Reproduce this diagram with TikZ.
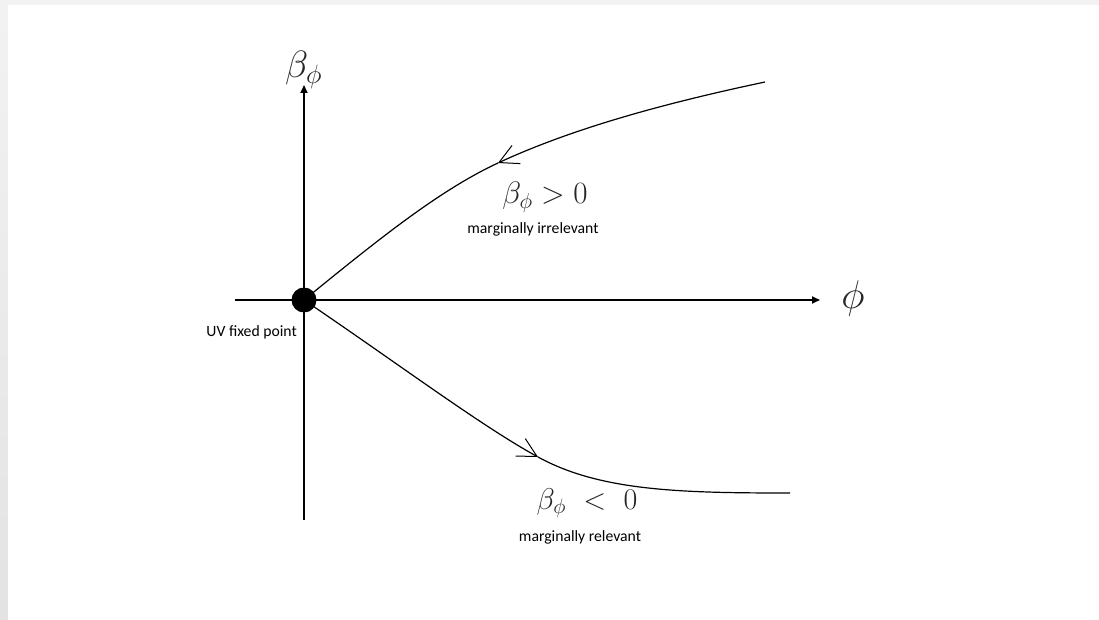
\RequirePackage{fix-cm}
\documentclass[tikz,border=0pt]{standalone}
\usepackage{fontspec}
\newfontfamily\calib{Carlito}
\usetikzlibrary{arrows.meta}
\begin{document}
\begin{tikzpicture}[x=1pt,y=-1pt,
  axis/.style={line width=1.8pt, -{Triangle[length=8pt,width=7pt]}},
  flow/.style={line width=1.2pt},
  barb/.style={flow, -{Straight Barb[length=19pt,width=20pt,line width=1pt]}},
  lbl/.style={font=\calib\fontsize{15.7}{18}\selectfont, inner sep=0pt, text=black},
  mathlbl/.style={inner sep=0pt, text=black!85}
]
\useasboundingbox (0,0) rectangle (1099,620);
\shade[top color=gray!10, bottom color=gray!22] (0,0) rectangle (1099,620);
\fill[white] (8,5) rectangle (1099,620);

% axes
\coordinate (yb) at (304,520);
\coordinate (yt) at (304,85);
\coordinate (xl) at (235,300);
\coordinate (xr) at (820,300);
\draw[axis] (yb) -- (yt);
\draw[axis] (xl) -- (xr);

% fixed point
\node[circle, fill=black, minimum size=25pt, inner sep=0pt] (fp) at (304,300) {};

% upper flow
\coordinate (ua) at (498,163);
\coordinate (ue) at (765,82);
\draw[barb] (ue) .. controls (680,100) and (580,125) .. (ua);
\draw[flow] (ua) .. controls (440,190) and (380,238) .. (fp.center);

% lower flow
\coordinate (la) at (538,457);
\coordinate (le) at (790,493);
\draw[barb] (fp.center) .. controls (400,365) and (480,425) .. (la);
\draw[flow] (la) .. controls (600,491) and (680,493) .. (le);

% labels
\node[mathlbl, anchor=base west, font=\fontsize{38}{42}\selectfont] (by) at (285,78) {$\beta_\phi$};
\node[mathlbl, font=\fontsize{40}{44}\selectfont] (phi) at (853,298) {$\phi$};
\node[mathlbl, anchor=base, font=\fontsize{31}{34}\selectfont] (bp) at (545,204) {$\beta_\phi > 0$};
\node[lbl] (mi) at (533,229) {marginally irrelevant};
\node[lbl, anchor=east] (uv) at (297,332) {UV fixed point};
\node[mathlbl, anchor=base, font=\fontsize{30}{34}\selectfont] (bn) at (587,509) {$\beta_\phi\ <\ 0$};
\node[lbl] (mr) at (580,537) {marginally relevant};
\end{tikzpicture}
\end{document}
